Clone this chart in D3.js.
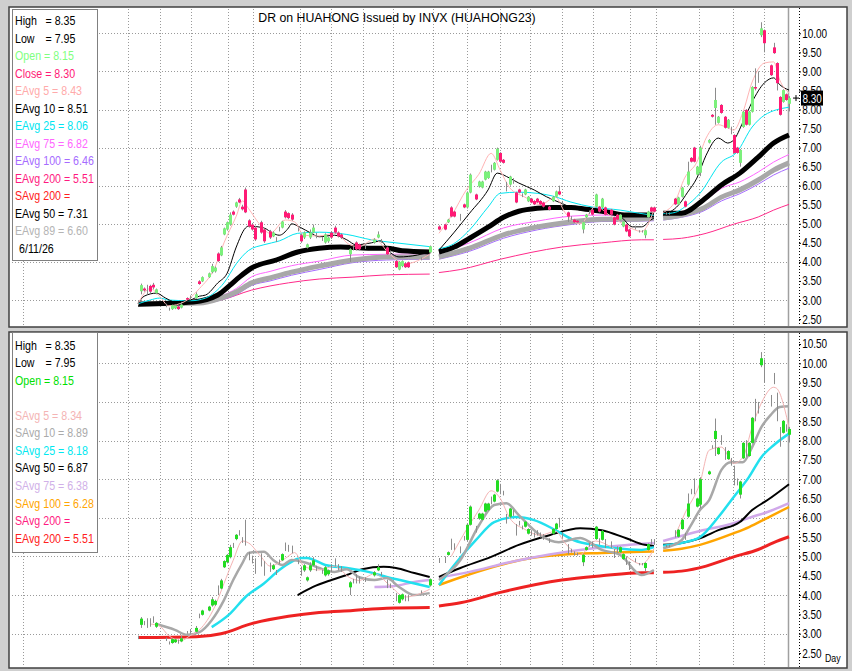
<!DOCTYPE html>
<html>
<head>
<meta charset="utf-8">
<script src="https://cdn.jsdelivr.net/npm/d3@7"></script>
<style>
body { margin: 0; background: #fff; }
text { font-family: "Liberation Sans", Arial, sans-serif; }
</style>
</head>
<body>
<div id="chart"></div>
<script>
// chart data
var title = "DR on HUAHONG Issued by INVX (HUAHONG23)";
var lastDate = "6/11/26";

// [bar, open, high, low, close]
var candles = [
[0,2.90,2.95,2.86,2.90],[1,3.23,3.43,3.15,3.39],[2,3.30,3.33,3.22,3.25],[3,3.30,3.40,3.15,3.30],
[4,3.37,3.40,3.18,3.22],[5,3.40,3.45,3.28,3.33],[6,3.18,3.30,3.15,3.28],[9,2.87,2.90,2.81,2.87],
[10,2.78,2.80,2.72,2.78],[11,2.76,2.88,2.74,2.86],[12,2.78,2.87,2.76,2.85],[13,2.83,2.85,2.74,2.76],
[14,2.80,2.95,2.78,2.88],[16,3.05,3.07,3.00,3.01],[17,3.10,3.12,3.00,3.10],[19,3.05,3.20,3.03,3.15],
[20,3.49,3.52,3.40,3.42],[21,3.49,3.62,3.47,3.60],[23,3.60,3.72,3.58,3.70],[24,3.73,3.95,3.70,3.89],
[25,3.75,3.88,3.72,3.85],[26,4.22,4.25,4.00,4.02],[27,4.17,4.42,4.15,4.38],[28,4.72,4.90,4.70,4.88],
[29,4.85,5.06,4.82,5.04],[30,4.98,5.30,4.95,5.24],[31,5.32,5.35,5.22,5.24],[32,5.45,5.58,5.42,5.56],
[33,5.64,5.68,5.54,5.56],[34,5.45,5.50,5.35,5.38],[35,5.90,5.95,5.28,5.30],[36,5.09,5.12,4.90,4.93],
[37,4.98,5.02,4.82,4.85],[38,4.90,4.95,4.55,4.59],[40,5.04,5.08,4.74,4.77],[41,4.85,4.88,4.50,4.54],
[43,4.80,4.84,4.60,4.64],[44,4.67,4.80,4.65,4.77],[45,4.60,4.65,4.52,4.60],[46,4.87,4.92,4.80,4.87],
[47,4.90,5.08,4.88,5.06],[48,5.32,5.36,5.14,5.17],[49,5.28,5.30,5.12,5.15],[50,5.24,5.28,5.08,5.11],
[52,4.85,4.90,4.80,4.85],[53,4.70,4.74,4.50,4.54],[54,4.64,4.80,4.60,4.77],[55,4.38,4.48,4.35,4.46],
[56,4.64,4.85,4.60,4.77],[57,4.77,4.98,4.75,4.90],[58,4.70,4.76,4.62,4.70],[60,4.62,4.66,4.55,4.62],
[61,4.51,4.75,4.48,4.72],[62,4.54,4.66,4.50,4.64],[63,4.77,4.80,4.60,4.64],[64,4.90,4.95,4.74,4.77],
[65,4.77,4.80,4.64,4.67],[66,4.72,4.75,4.60,4.64],[69,4.20,4.36,4.00,4.33],[70,4.36,4.42,4.30,4.36],
[71,4.51,4.54,4.30,4.33],[72,4.46,4.48,4.30,4.33],[74,4.40,4.46,4.34,4.40],[77,4.51,4.62,4.48,4.59],
[78,4.64,4.80,4.62,4.72],[79,4.55,4.60,4.50,4.55],[81,4.38,4.40,4.18,4.20],[82,4.25,4.30,4.18,4.25],
[84,4.02,4.05,3.84,3.86],[85,3.80,4.02,3.78,4.00],[86,3.89,4.04,3.86,4.02],[87,3.96,3.98,3.84,3.86],
[88,3.99,4.01,3.84,3.86],[92,4.08,4.12,4.04,4.08],[95,4.25,4.43,4.22,4.41],
[98,4.93,4.96,4.83,4.85],[100,4.98,5.00,4.83,4.85],[101,5.04,5.13,5.02,5.11],[102,5.43,5.46,5.17,5.19],
[103,5.32,5.34,5.17,5.19],[105,5.17,5.26,5.08,5.17],[106,5.51,5.53,5.41,5.43],[107,5.43,5.85,5.40,5.82],
[108,5.82,6.32,5.80,6.29],[110,5.77,5.79,5.62,5.64],[111,5.98,6.13,5.95,6.11],[112,5.95,6.13,5.93,6.11],
[113,6.16,6.39,6.14,6.37],[114,6.20,6.39,6.18,6.37],[115,6.45,6.55,6.35,6.45],[116,6.42,6.62,6.40,6.60],
[117,6.68,7.00,6.66,6.97],[118,6.86,6.88,6.61,6.63],[119,6.68,6.70,6.58,6.60],[120,6.00,6.10,5.85,6.00],
[121,6.03,6.26,6.00,6.24],[122,6.15,6.20,6.05,6.15],[123,5.82,5.84,5.54,5.56],[124,5.90,5.92,5.80,5.82],
[125,5.75,5.80,5.70,5.75],[126,5.77,5.92,5.75,5.90],[127,5.59,5.73,5.57,5.71],[128,5.66,5.68,5.54,5.56],
[129,5.60,5.62,5.49,5.51],[130,5.66,5.68,5.54,5.56],[131,5.60,5.62,5.49,5.51],[132,5.56,5.58,5.43,5.45],
[134,5.45,5.47,5.35,5.37],[135,5.59,5.73,5.57,5.71],[136,5.71,5.87,5.69,5.85],[137,5.85,6.00,5.75,5.77],
[138,5.55,5.60,5.48,5.55],[140,5.30,5.32,5.05,5.19],[141,5.15,5.20,5.10,5.15],[142,5.11,5.13,5.02,5.04],
[143,5.08,5.10,5.02,5.04],[145,4.85,5.06,4.75,5.04],[146,5.17,5.26,5.15,5.24],[147,5.30,5.35,5.25,5.30],
[148,5.37,5.39,5.22,5.24],[149,5.45,5.79,5.43,5.77],[150,5.45,5.47,5.30,5.32],[151,5.43,5.68,5.41,5.66],
[152,5.43,5.45,5.22,5.24],[154,5.37,5.39,5.22,5.24],[155,5.17,5.19,4.96,4.98],[156,5.24,5.26,5.09,5.11],
[157,5.11,5.26,5.09,5.24],[158,4.93,5.08,4.91,5.06],[159,4.98,5.00,4.78,4.80],[160,4.85,4.87,4.65,4.67],
[162,4.90,4.95,4.85,4.90],[163,4.80,4.83,4.77,4.80],[164,4.80,4.83,4.77,4.80],[165,4.70,4.85,4.62,4.83],
[166,5.17,5.34,5.15,5.32],[167,5.43,5.45,5.30,5.32],[168,5.43,5.45,5.30,5.32],
[172,5.27,5.30,5.24,5.27],[173,5.27,5.30,5.24,5.27],[175,5.66,5.68,5.49,5.51],[176,5.51,5.71,5.49,5.69],
[177,5.71,5.97,5.69,5.95],[178,5.59,5.61,5.43,5.45],[179,6.03,6.63,6.00,6.37],[180,6.73,6.75,6.61,6.63],
[181,7.00,7.02,6.61,6.63],[182,6.29,6.52,6.27,6.50],[183,6.34,7.05,6.25,7.00],[186,7.13,7.22,7.11,7.20],
[187,7.86,7.88,7.79,7.81],[188,8.04,8.57,7.60,8.25],[189,7.65,7.83,7.63,7.81],[190,8.12,8.14,7.89,7.91],
[191,7.81,7.83,7.50,7.52],[192,7.52,7.75,7.50,7.73],[193,7.45,7.55,7.35,7.45],[194,7.33,7.35,6.84,6.86],
[195,7.00,7.02,6.84,6.86],[196,6.60,6.96,6.50,6.94],[197,7.54,7.96,7.52,7.94],[198,7.99,8.01,7.58,7.60],
[199,7.60,7.96,7.58,7.94],[200,7.94,8.61,7.92,8.59],[201,8.59,9.08,8.50,8.55],[202,8.90,9.00,8.70,8.90],
[203,9.95,10.29,9.90,10.13],[204,10.08,10.10,9.50,9.74],[206,9.16,9.18,8.88,8.90],[207,9.63,9.75,9.46,9.48],
[208,9.22,9.24,8.50,8.69],[209,8.33,8.35,7.84,7.86],[210,8.20,8.53,8.18,8.51],[211,8.40,8.42,8.23,8.25],
[212,8.15,8.35,7.95,8.30]
];

// moving averages as [bar, value]; null = break in the line
var ema5 = [[0,2.9],[4,3.3],[7,3.1],[10,2.85],[15,2.95],[20,3.3],[25,3.85],[28,4.5],[32,5.2],[34,5.6],[36,5.4],[40,4.95],[43,4.75],[48,5.1],[51,5.05],[54,4.7],[59,4.68],[64,4.75],[69,4.45],[72,4.4],[77,4.6],[82,4.2],[87,3.95],[95,4.2],null,
  [98,4.75],[102,5.2],[107,5.9],[111,6.3],[115,6.85],[118,6.4],[121,5.95],[126,5.7],[131,5.5],[136,5.7],[139,5.3],[144,5.0],[149,5.45],[154,5.2],[159,4.95],[164,4.8],[168,5.35],null,
  [171,5.3],[175,5.6],[178,6.2],[182,6.62],[185,7.25],[189,7.6],[192,7.52],[194,7.46],[197,7.93],[200,8.72],[204,9.22],[207,9.25],[209,8.77],[212,8.43]];
var ema10 = [[0,2.9],[2,3.1],[6,3.18],[9,3.05],[12,2.95],[17,3.0],[20,3.1],[22,3.13],[26,3.45],[29,3.7],[32,4.39],[35,4.89],[36,4.94],[41,4.89],[44,4.75],[46,4.7],[49,4.89],[50,5.0],[53,4.9],[56,4.77],[59,4.66],[64,4.7],[68,4.58],[71,4.45],[76,4.5],[79,4.55],[82,4.26],[85,4.13],[91,4.18],[95,4.26],null,
  [98,4.31],[103,4.78],[108,5.28],[114,5.89],[117,6.33],[121,6.2],[124,6.07],[129,5.89],[133,5.71],[137,5.57],[144,5.36],[151,5.31],[157,5.2],[161,4.92],[164,4.92],[167,5.1],[168,5.15],null,
  [171,5.23],[176,5.49],[179,5.83],[182,6.2],[185,6.8],[189,7.25],[192,7.12],[194,7.2],[197,7.67],[200,8.2],[204,8.7],[207,8.83],[209,8.65],[212,8.51]];
var ema25 = [[0,2.9],[4,3.0],[7,3.05],[10,3.0],[17,2.98],[22,3.05],[25,3.2],[28,3.45],[32,3.95],[36,4.3],[41,4.45],[46,4.55],[52,4.75],[59,4.78],[68,4.72],[76,4.58],[84,4.5],[95,4.4],null,
  [98,4.35],[102,4.44],[108,4.84],[114,5.44],[118,5.8],[124,5.83],[130,5.8],[135,5.73],[141,5.57],[148,5.44],[157,5.36],[163,5.28],[168,5.22],null,
  [171,5.26],[175,5.3],[178,5.44],[183,5.8],[190,6.62],[195,6.88],[200,7.54],[204,7.85],[212,8.06]];
var ema50 = [[0,2.89],[18,2.95],[26,3.13],[30,3.39],[33,3.6],[37,3.84],[45,4.05],[52,4.26],[59,4.36],[66,4.39],[75,4.36],[81,4.36],[86,4.29],[95,4.26],null,
  [98,4.26],[103,4.39],[108,4.62],[114,4.91],[119,5.17],[124,5.33],[130,5.41],[135,5.43],[141,5.43],[146,5.38],[153,5.31],[159,5.23],[168,5.23],null,
  [171,5.28],[177,5.28],[184,5.62],[190,6.02],[196,6.33],[202,6.75],[207,7.12],[212,7.33]];
var ema75 = [[0,2.9],[20,2.93],[27,3.1],[32,3.3],[37,3.61],[43,3.75],[50,3.9],[59,4.02],[70,4.18],[81,4.2],[95,4.21],null,
  [98,4.22],[108,4.5],[119,4.89],[130,5.07],[141,5.2],[151,5.23],[163,5.2],[168,5.22],null,
  [171,5.24],[177,5.31],[184,5.57],[190,5.93],[196,6.1],[202,6.36],[207,6.62],[212,6.82]];
var ema89 = [[0,2.9],[20,2.92],[27,3.05],[32,3.21],[37,3.45],[43,3.58],[50,3.73],[59,3.89],[70,4.05],[81,4.13],[95,4.13],null,
  [98,4.13],[108,4.36],[119,4.71],[130,4.92],[141,5.05],[151,5.12],[163,5.12],[168,5.15],null,
  [171,5.15],[177,5.23],[184,5.41],[190,5.7],[196,5.89],[202,6.15],[207,6.41],[212,6.6]];
var ema100 = [[0,2.88],[20,2.9],[27,3.0],[32,3.14],[37,3.38],[43,3.5],[50,3.65],[59,3.8],[70,3.98],[81,4.05],[95,4.07],null,
  [98,4.07],[108,4.28],[119,4.62],[130,4.84],[141,4.98],[151,5.06],[163,5.07],[168,5.08],null,
  [171,5.1],[177,5.17],[184,5.33],[190,5.6],[196,5.79],[202,6.04],[207,6.28],[212,6.46]];
var ema200 = [[0,2.9],[19,2.92],[27,3.0],[37,3.26],[49,3.45],[59,3.55],[70,3.6],[81,3.66],[95,3.68],null,
  [98,3.72],[105,3.8],[118,4.07],[138,4.39],[151,4.5],[164,4.58],[168,4.58],null,
  [171,4.59],[177,4.62],[185,4.75],[194,4.99],[202,5.18],[207,5.36],[212,5.51]];

var sma5 = [[4,3.25],[7,3.2],[10,2.95],[14,2.82],[17,2.95],[20,3.1],[25,3.7],[28,4.3],[31,4.9],[34,5.4],[36,5.35],[40,5.0],[43,4.75],[48,4.95],[51,5.1],[54,4.75],[59,4.65],[64,4.75],[69,4.45],[72,4.38],[77,4.55],[82,4.25],[87,3.95],[95,4.15],null,
  [102,5.0],[107,5.7],[111,6.2],[115,6.7],[118,6.5],[121,6.0],[126,5.7],[131,5.55],[136,5.65],[139,5.35],[144,5.05],[149,5.4],[154,5.25],[159,5.0],[164,4.8],[168,5.2],null,
  [175,5.55],[178,6.1],[183,6.9],[186,7.75],[190,7.83],[194,7.41],[197,7.57],[200,8.35],[203,8.97],[207,9.38],[208,9.35],[212,8.34]];
var sma10 = [[6,3.25],[12,3.1],[16,2.97],[20,3.04],[24,3.35],[28,3.87],[31,4.39],[34,4.83],[36,5.09],[41,5.12],[44,4.91],[47,4.78],[50,4.91],[55,4.83],[59,4.7],[64,4.6],[68,4.67],[72,4.46],[77,4.39],[81,4.44],[85,4.21],[90,4.0],[95,4.05],null,
  [98,4.39],[105,4.91],[111,5.8],[116,6.33],[120,6.38],[124,6.07],[131,5.55],[137,5.37],[144,5.48],[151,5.17],[157,5.04],[164,4.52],[168,4.65],null,
  [171,5.21],[177,5.42],[180,5.8],[183,6.2],[186,6.46],[190,7.24],[193,7.44],[197,7.44],[200,7.83],[203,8.35],[206,8.66],[209,8.87],[212,8.89]];
var sma25 = [[24,3.17],[30,3.52],[35,3.95],[41,4.3],[46,4.65],[50,4.86],[53,4.96],[55,4.96],[61,4.78],[68,4.7],[75,4.6],[81,4.47],[88,4.34],[95,4.21],null,
  [98,4.26],[103,4.78],[110,5.42],[116,5.89],[123,6.02],[129,5.94],[136,5.68],[142,5.42],[149,5.29],[155,5.22],[164,5.17],[168,5.24],null,
  [171,5.28],[177,5.35],[183,5.5],[189,6.02],[194,6.54],[199,7.06],[203,7.57],[207,7.88],[212,8.18]];
var sma50 = [[52,4.0],[57,4.21],[63,4.39],[68,4.52],[73,4.67],[80,4.73],[84,4.7],[90,4.57],[95,4.47],null,
  [98,4.47],[105,4.7],[115,4.99],[124,5.3],[134,5.55],[144,5.73],[151,5.68],[159,5.47],[165,5.3],[168,5.27],null,
  [171,5.3],[177,5.35],[183,5.47],[189,5.68],[196,5.89],[200,6.2],[205,6.46],[212,6.87]];
var sma75 = [[77,4.21],[83,4.23],[90,4.34],[95,4.39],null,
  [98,4.45],[108,4.6],[121,4.85],[134,5.05],[147,5.2],[160,5.3],[168,5.35],null,
  [171,5.4],[183,5.66],[194,5.86],[199,6.0],[205,6.15],[212,6.38]];
var sma100 = [[98,4.26],[108,4.54],[118,4.78],[128,4.96],[137,5.04],[151,5.09],[164,5.12],[168,5.13],null,
  [171,5.15],[177,5.2],[183,5.3],[194,5.6],[199,5.76],[205,6.0],[212,6.28]];

// date grid lines (bar positions) and price ticks
var gridBars = [-37.5, -3.3, 7.2, 17.3, 29.3, 37.5, 52.8, 62.9, 73.3, 83.1, 96.1, 107.2, 117.9, 127.7, 138.1, 148.2, 160.3, 168.7, 182.7, 193.8, 203.9];
var gridPrices = [3, 4, 5, 6, 7, 8, 9, 10];
var topTicks = [2.5, 3, 3.5, 4, 4.5, 5, 5.5, 6, 6.5, 7, 7.5, 8, 8.5, 9, 9.5, 10];
var bottomTicks = [2.5, 3, 3.5, 4, 4.5, 5, 5.5, 6, 6.5, 7, 7.5, 8, 8.5, 9, 9.5, 10, 10.5];

var topLegendNames = ["High", "Low", "Open", "Close", "EAvg 5", "EAvg 10", "EAvg 25", "EAvg 75", "EAvg 100", "EAvg 200", "SAvg 200", "EAvg 50", "EAvg 89"];
var topLegendValues = ["8.35", "7.95", "8.15", "8.30", "8.43", "8.51", "8.06", "6.82", "6.46", "5.51", "", "7.31", "6.60"];
var topLegendColors = ["#000", "#000", "#80ff80", "#ff1a75", "#ffaaaa", "#000", "#00e5f0", "#ff66ff", "#a66bff", "#ff1a80", "#ff2020", "#000", "#b4b4b4"];

var botLegendNames = ["High", "Low", "Open", "", "SAvg 5", "SAvg 10", "SAvg 25", "SAvg 50", "SAvg 75", "SAvg 100", "SAvg 200", "EAvg 200"];
var botLegendValues = ["8.35", "7.95", "8.15", "", "8.34", "8.89", "8.18", "6.87", "6.38", "6.28", "", "5.51"];
var botLegendColors = ["#000", "#000", "#00e000", "#fff", "#f4b4b4", "#aaaaaa", "#00e8f0", "#000", "#d0b0e8", "#ffa500", "#ff1a80", "#ff2020"];

var width = 852, height = 671;

var svg = d3.select("#chart")
  .append("svg")
    .attr("width", width)
    .attr("height", height);

svg.append("rect").attr("width", width).attr("height", height).attr("fill", "#cfcfcf");

var x = d3.scaleLinear().domain([0, 212]).range([138, 789]);
var yTop = d3.scaleLinear().domain([3, 10]).range([300, 33.3]);
var yBot = d3.scaleLinear().domain([3, 10]).range([633.7, 363.3]);

var panels = [
  {y: yTop, top: 7, bottom: 327, ticks: topTicks},
  {y: yBot, top: 332, bottom: 668, ticks: bottomTicks}
];

panels.forEach(function(p) {
  svg.append("rect")
    .attr("x", 9).attr("y", p.top)
    .attr("width", 838).attr("height", p.bottom - p.top)
    .attr("fill", "#fff")
    .attr("stroke", "#404040")
    .attr("stroke-width", 1.5);

  var grid = svg.append("g").attr("stroke", "#9a9a9a").attr("stroke-dasharray", "1,2");
  grid.selectAll(".h").data(gridPrices).enter().append("line")
    .attr("x1", 12).attr("x2", 788)
    .attr("y1", function(d) { return Math.round(p.y(d)) + 0.5; })
    .attr("y2", function(d) { return Math.round(p.y(d)) + 0.5; });
  grid.selectAll(".v").data(gridBars).enter().append("line")
    .attr("x1", function(d) { return Math.round(x(d)) + 0.5; })
    .attr("x2", function(d) { return Math.round(x(d)) + 0.5; })
    .attr("y1", p.top + 2).attr("y2", p.bottom - 1);

  // last bar marker and axis line
  svg.append("line")
    .attr("x1", 788.5).attr("x2", 788.5).attr("y1", p.top + 1).attr("y2", p.bottom - 1)
    .attr("stroke", "#a0a0a0").attr("stroke-width", 1.5);
  svg.append("line")
    .attr("x1", 799.5).attr("x2", 799.5).attr("y1", p.top + 1).attr("y2", p.bottom - 1)
    .attr("stroke", "#000").attr("stroke-dasharray", "1,2");

  var ax = svg.append("g")
    .attr("transform", "translate(799,0)")
    .call(d3.axisRight(p.y).tickValues(p.ticks).tickFormat(d3.format(".2f")).tickSize(2).tickPadding(2));
  ax.select(".domain").remove();
  ax.selectAll("line").attr("stroke", "#000");
  ax.selectAll("text")
    .attr("font-family", "Liberation Sans, Arial, sans-serif")
    .attr("font-size", 12.5)
    .attr("fill", "#000")
    .attr("transform", "scale(0.8,1)");
});

function drawLine(data, y, color, w) {
  svg.append("path")
    .datum(data)
    .attr("fill", "none")
    .attr("stroke", color)
    .attr("stroke-width", w)
    .attr("stroke-linejoin", "round")
    .attr("d", d3.line()
      .defined(function(d) { return d !== null; })
      .curve(d3.curveMonotoneX)
      .x(function(d) { return x(d[0]); })
      .y(function(d) { return y(d[1]); }));
}

// top panel averages
drawLine(ema200, yTop, "#ff2a8a", 1);
drawLine(ema100, yTop, "#a66bff", 1);
drawLine(ema75, yTop, "#ff66ff", 1);
drawLine(ema89, yTop, "#a8a8a8", 5);
drawLine(ema50, yTop, "#000", 5);
drawLine(ema25, yTop, "#00e5f0", 1);
drawLine(ema10, yTop, "#000", 1);
drawLine(ema5, yTop, "#ffb4b4", 1);

// bottom panel averages
drawLine(ema200, yBot, "#ee2222", 3);
drawLine(sma100, yBot, "#ffa500", 2.5);
drawLine(sma75, yBot, "#d0a8ea", 2.5);
drawLine(sma50, yBot, "#000", 2);
drawLine(sma25, yBot, "#22e0ee", 2.5);
drawLine(sma10, yBot, "#a8a8a8", 2.5);
drawLine(sma5, yBot, "#f4b4b4", 1);

function drawCandles(y, upColor, downColor) {
  var g = svg.append("g");
  g.selectAll("line").data(candles).enter().append("line")
    .attr("x1", function(d) { return Math.round(x(d[0])) + 0.5; })
    .attr("x2", function(d) { return Math.round(x(d[0])) + 0.5; })
    .attr("y1", function(d) { return y(d[2]); })
    .attr("y2", function(d) { return y(d[3]); })
    .attr("stroke", "#8c8c8c");
  g.selectAll("rect").data(candles.filter(function(d) { return d[1] !== d[4] && (downColor || d[4] > d[1]); }))
    .enter().append("rect")
    .attr("x", function(d) { return Math.round(x(d[0])) - 1; })
    .attr("width", 3)
    .attr("y", function(d) { return y(Math.max(d[1], d[4])); })
    .attr("height", function(d) { return Math.max(1, Math.abs(y(d[1]) - y(d[4]))); })
    .attr("fill", function(d) { return d[4] > d[1] ? upColor : downColor; });
}
drawCandles(yTop, "#7cf07c", "#ff1a75");
drawCandles(yBot, "#22dd22", null);

// legends
function drawLegend(top, h, names, values, colors, base, step) {
  svg.append("rect")
    .attr("x", 12.5).attr("y", top + 0.5)
    .attr("width", 85).attr("height", h)
    .attr("fill", "#fff").attr("stroke", "#808080");
  names.forEach(function(n, i) {
    if (n === "") return;
    var yy = base + i * step;
    var txt = (n === "High" || n === "Low") ? n : n + " = " + values[i];
    svg.append("text")
      .attr("transform", "translate(15," + yy + ") scale(0.82,1)")
      .attr("font-size", 13)
      .attr("fill", colors[i])
      .text(txt);
    if (n === "High" || n === "Low") {
      svg.append("text")
        .attr("transform", "translate(45.5," + yy + ") scale(0.82,1)")
        .attr("font-size", 13)
        .attr("fill", colors[i])
        .text("= " + values[i]);
    }
  });
}
drawLegend(9, 251, topLegendNames, topLegendValues, topLegendColors, 25.2, 17.5);
drawLegend(332, 220, botLegendNames, botLegendValues, botLegendColors, 349.5, 17.57);

svg.append("text")
  .attr("transform", "translate(19,252.7) scale(0.82,1)")
  .attr("font-size", 13)
  .text(lastDate);

svg.append("text")
  .attr("x", 397).attr("y", 21.5)
  .attr("text-anchor", "middle")
  .attr("font-size", 12.3)
  .text(title);

// last price tag
var last = candles[candles.length - 1];
svg.append("path")
  .attr("d", "M793," + yTop(last[4]) + "h6M796," + (yTop(last[4]) - 3) + "v6")
  .attr("stroke", "#000");
svg.append("rect")
  .attr("x", 801).attr("y", yTop(last[4]) - 7.5)
  .attr("width", 22).attr("height", 15)
  .attr("fill", "#000");
svg.append("text")
  .attr("transform", "translate(802.5," + (yTop(last[4]) + 4.5) + ") scale(0.8,1)")
  .attr("font-size", 12.5)
  .attr("fill", "#fff")
  .text(last[4].toFixed(2));

svg.append("text")
  .attr("transform", "translate(825,662) scale(0.8,1)")
  .attr("font-size", 11)
  .text("Day");
</script>
</body>
</html>
